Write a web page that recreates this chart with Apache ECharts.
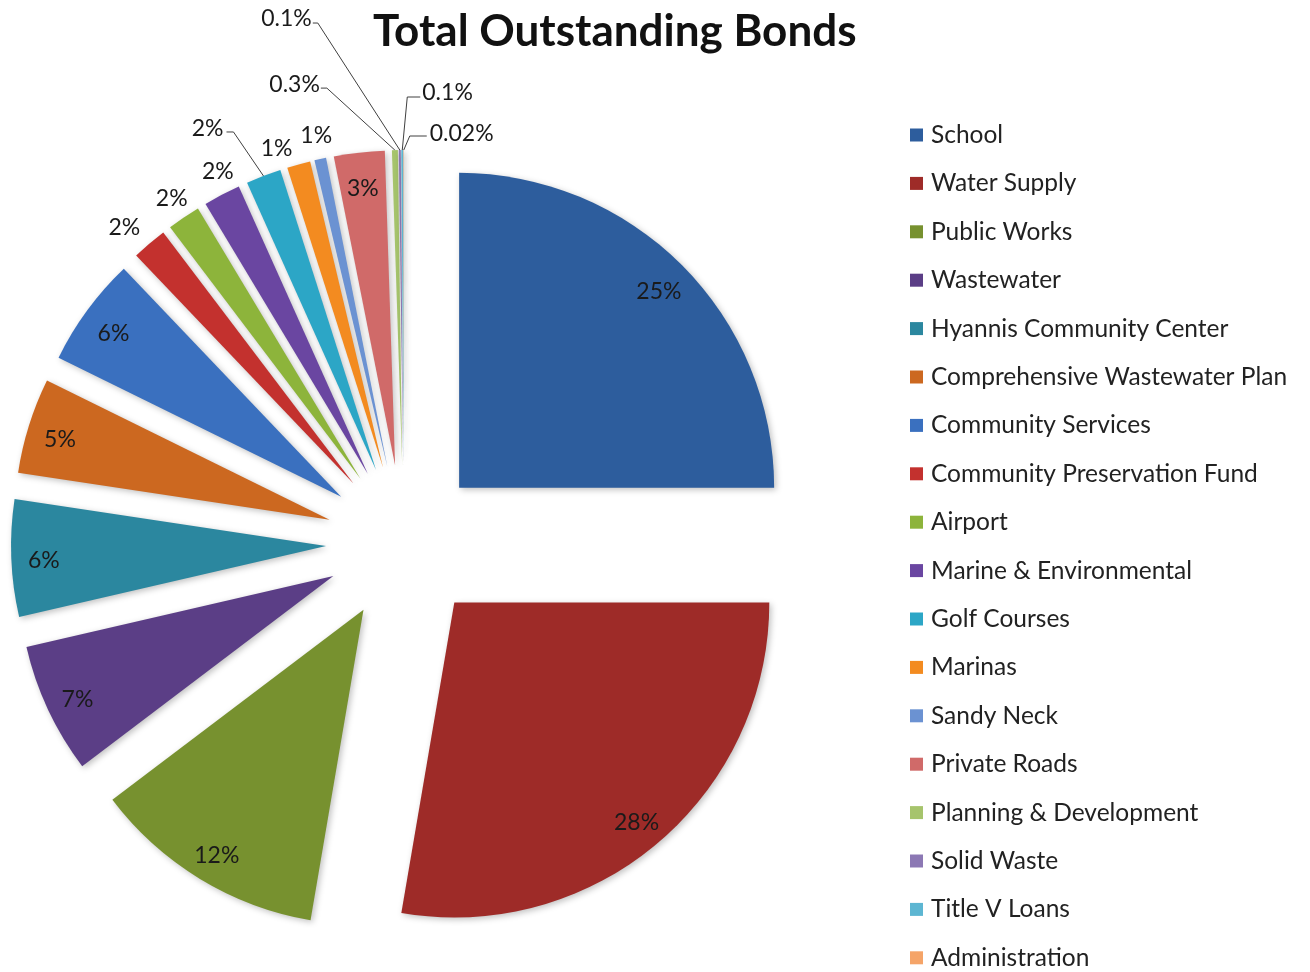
<!DOCTYPE html>
<html>
<head>
<meta charset="utf-8">
<title>Total Outstanding Bonds</title>
<script src="https://cdn.jsdelivr.net/npm/echarts@6/dist/echarts.min.js"></script>
<style>
  html, body { margin: 0; padding: 0; background: #fff; }
  #chart { width: 1310px; height: 972px; }
</style>
</head>
<body>
<div id="chart"></div>
<script>
// categories, clockwise from 12 o'clock
const categories = [
    'School', 'Water Supply', 'Public Works', 'Wastewater',
    'Hyannis Community Center', 'Comprehensive Wastewater Plan',
    'Community Services', 'Community Preservation Fund', 'Airport',
    'Marine & Environmental', 'Golf Courses', 'Marinas', 'Sandy Neck',
    'Private Roads', 'Planning & Development', 'Solid Waste',
    'Title V Loans', 'Administration'
];
// share of total (%)
const values = [
    25.0, 27.7, 12.0, 6.7, 6.0, 4.9, 5.6, 1.8, 1.7,
    1.9, 1.8, 1.2, 0.6, 2.6, 0.3, 0.1, 0.1, 0.02
];
// data labels as printed on the chart
const labelTexts = [
    '25%', '28%', '12%', '7%', '6%', '5%', '6%', '2%', '2%',
    '2%', '2%', '1%', '1%', '3%', '0.3%', '0.1%', '0.1%', '0.02%'
];

const colors = [
    '#2d5d9d', '#9e2b28', '#77912f', '#5b3e86', '#2b879f', '#cc6820',
    '#3a70bf', '#c3312e', '#8db43b', '#6a46a1', '#2ca6c6', '#f38b20',
    '#6b92d2', '#d06a69', '#a6c46c', '#8c78b4', '#5db6d2', '#f5a468'
];

// placement of outside labels, relative to the (exploded) slice tip
// label: [dx, dy, align], line: elbow and end of the leader line, or null
const outsidePlace = {
    7:  { label: [-25, -16, 'center'], line: null },
    8:  { label: [-12, -19, 'center'], line: null },
    9:  { label: [-4, -23, 'center'], line: null },
    10: { label: [-40, -47, 'right'], line: [[-30, -44], [-37, -44]] },
    11: { label: [-22, -16, 'center'], line: null },
    12: { label: [-4, -23, 'center'], line: null },
    14: { label: [-75, -66, 'right'], line: [[-68, -62], [-74, -62]] },
    15: { label: [-88, -131, 'right'], line: [[-82, -127], [-87, -127]] },
    16: { label: [20, -57, 'left'], line: [[5, -53], [18, -53]] },
    17: { label: [26, -16, 'left'], line: [[6, -14], [23, -14]] }
};

const FONT = 'Lato, "Open Sans", sans-serif';
const CENTER = [404, 543];
const R = 315;
const EXPLODE = 78;

// direction each slice is pulled out in (middle of its arc)
const total = values.reduce((a, b) => a + b, 0);
let acc = 0;
const explodeVec = values.map(v => {
    let a = (acc + v / 2) / total * Math.PI * 2;
    acc += v;
    return [Math.sin(a) * EXPLODE, -Math.cos(a) * EXPLODE];
});

let mainData = categories.map((name, i) => ({
    name: name,
    value: values[i],
    selected: true,
    itemStyle: { color: colors[i] }
}));

// transparent ring on the outer part of each slice, only used to carry labels
let labelData = categories.map((name, i) => {
    let place = outsidePlace[i];
    return {
        name: name,
        value: values[i],
        label: {
            show: true,
            position: place ? 'outside' : 'inside',
            formatter: () => labelTexts[i]
        },
        labelLine: { show: !!(place && place.line) }
    };
});

let option = {
    backgroundColor: '#fff',
    animation: false,
    color: colors,
    title: {
        text: 'Total Outstanding Bonds',
        left: 368,
        top: 5,
        textStyle: {
            fontFamily: FONT,
            fontSize: 44,
            fontWeight: 'bold',
            color: '#111'
        }
    },
    legend: {
        orient: 'vertical',
        left: 910,
        top: 122.5,
        height: 850,
        padding: 0,
        icon: 'rect',
        itemWidth: 13,
        itemHeight: 13,
        itemGap: 23.4,
        selectedMode: false,
        data: categories,
        textStyle: {
            fontFamily: FONT,
            fontSize: 24.5,
            lineHeight: 25,
            padding: [0, 0, 0, 3],
            color: '#222'
        }
    },
    series: [
        {
            name: 'bonds',
            type: 'pie',
            center: CENTER,
            radius: [0, R],
            startAngle: 90,
            selectedMode: 'multiple',
            selectedOffset: EXPLODE,
            silent: true,
            avoidLabelOverlap: false,
            label: { show: false },
            labelLine: { show: false },
            emphasis: { disabled: true },
            itemStyle: {
                shadowBlur: 6,
                shadowColor: 'rgba(0,0,0,0.25)',
                shadowOffsetX: 2,
                shadowOffsetY: 2
            },
            data: mainData
        },
        {
            name: 'labels',
            type: 'pie',
            center: CENTER,
            radius: [244, R],
            startAngle: 90,
            silent: true,
            avoidLabelOverlap: false,
            emphasis: { disabled: true },
            itemStyle: { color: 'rgba(0,0,0,0)' },
            label: {
                fontFamily: FONT,
                fontSize: 23,
                color: '#1a1a1a'
            },
            labelLine: {
                length: 8,
                length2: 8,
                lineStyle: { color: '#404040', width: 1 }
            },
            // ring is not exploded, so shift every label by its slice's offset
            labelLayout: params => {
                let i = params.dataIndex;
                let e = explodeVec[i];
                let place = outsidePlace[i];
                if (!place) {
                    let r = params.labelRect;
                    return {
                        x: r.x + r.width / 2 + e[0],
                        y: r.y + r.height / 2 + e[1] + 4,
                        align: 'center',
                        verticalAlign: 'middle'
                    };
                }
                let p0 = params.labelLinePoints[0];
                let tip = [p0[0] + e[0], p0[1] + e[1]];
                let out = {
                    x: tip[0] + place.label[0],
                    y: tip[1] + place.label[1],
                    align: place.label[2],
                    verticalAlign: 'middle'
                };
                if (place.line) {
                    out.labelLinePoints = [
                        tip,
                        [tip[0] + place.line[0][0], tip[1] + place.line[0][1]],
                        [tip[0] + place.line[1][0], tip[1] + place.line[1][1]]
                    ];
                }
                return out;
            },
            data: labelData
        }
    ]
};

let mychart = echarts.init(document.getElementById('chart'));
mychart.setOption(option);
</script>
</body>
</html>
